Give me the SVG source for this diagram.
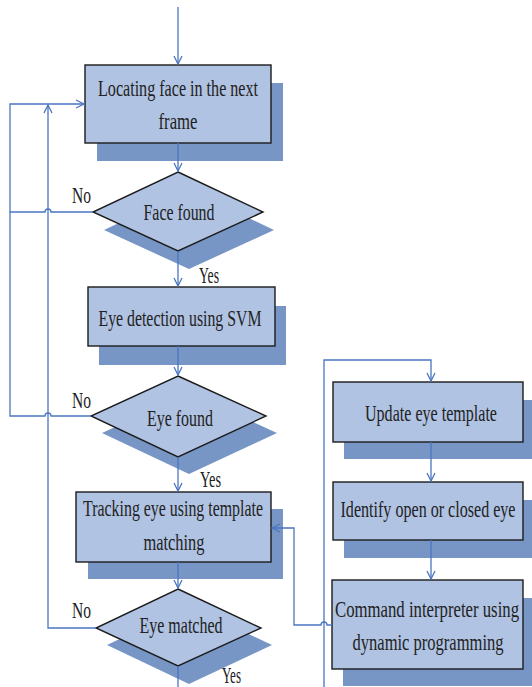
<svg xmlns="http://www.w3.org/2000/svg" width="532" height="687" viewBox="0 0 532 687">
<style>
.box{fill:#B0C3E3;stroke:#1c1c1c;stroke-width:1.4}
.sh{fill:#7896C5}
.t{font-family:"Liberation Serif",serif;font-size:23px;fill:#222;text-anchor:middle}
.lbl{font-family:"Liberation Serif",serif;font-size:23px;fill:#222}
.c{fill:none;stroke:#4A76C0;stroke-width:1.3}
</style>
<defs>
<marker id="ah" viewBox="0 0 10 10" refX="9" refY="5" markerWidth="10" markerHeight="10" markerUnits="userSpaceOnUse" orient="auto">
<path d="M1,1 L9,5 L1,9" fill="none" stroke="#4A76C0" stroke-width="1.3"/>
</marker>
</defs>
<g id="n1">
<rect class="sh" x="97" y="83" width="186" height="78"/>
<rect class="box" x="85" y="65" width="186" height="78"/>
<text class="t" transform="translate(178,96) scale(0.7,1)" textLength="228.6" lengthAdjust="spacingAndGlyphs">Locating face in the next</text>
<text class="t" transform="translate(178,129) scale(0.7,1)" textLength="55.7" lengthAdjust="spacingAndGlyphs">frame</text>
</g>
<g id="d1">
<polygon class="sh" points="189,190 274,230 189,269 104,230"/>
<polygon class="box" points="178,172 263,212 178,251 93,212"/>
<text class="t" transform="translate(179,220) scale(0.7,1)" textLength="101.4" lengthAdjust="spacingAndGlyphs">Face found</text>
</g>
<g id="n2">
<rect class="sh" x="99" y="306" width="187" height="59"/>
<rect class="box" x="88" y="287" width="187" height="59"/>
<text class="t" transform="translate(180,326) scale(0.7,1)" textLength="232.9" lengthAdjust="spacingAndGlyphs">Eye detection using SVM</text>
</g>
<g id="d2">
<polygon class="sh" points="189,393 277,433 189,474 102,433"/>
<polygon class="box" points="178,376 266,416 178,457 91,416"/>
<text class="t" transform="translate(180,426) scale(0.7,1)" textLength="94.3" lengthAdjust="spacingAndGlyphs">Eye found</text>
</g>
<g id="n3">
<rect class="sh" x="88" y="509" width="195" height="70"/>
<rect class="box" x="76" y="492" width="195" height="70"/>
<text class="t" transform="translate(173,516) scale(0.7,1)" textLength="257.1" lengthAdjust="spacingAndGlyphs">Tracking eye using template</text>
<text class="t" transform="translate(174,550) scale(0.7,1)" textLength="87.1" lengthAdjust="spacingAndGlyphs">matching</text>
</g>
<g id="d3">
<polygon class="sh" points="189,606 272,645 189,684 107,645"/>
<polygon class="box" points="178,589 261,628 178,666 96,628"/>
<text class="t" transform="translate(181,633) scale(0.7,1)" textLength="118.6" lengthAdjust="spacingAndGlyphs">Eye matched</text>
</g>
<g id="r1">
<rect class="sh" x="344" y="400" width="190" height="59"/>
<rect class="box" x="333" y="382" width="190" height="60"/>
<text class="t" transform="translate(431,421) scale(0.7,1)" textLength="188.6" lengthAdjust="spacingAndGlyphs">Update eye template</text>
</g>
<g id="r2">
<rect class="sh" x="344" y="500" width="190" height="58"/>
<rect class="box" x="333" y="482" width="190" height="58"/>
<text class="t" transform="translate(428,517) scale(0.7,1)" textLength="250" lengthAdjust="spacingAndGlyphs">Identify open or closed eye</text>
</g>
<g id="r3">
<rect class="sh" x="343" y="598" width="191" height="88"/>
<rect class="box" x="332" y="580" width="191" height="89"/>
<text class="t" transform="translate(427,617) scale(0.7,1)" textLength="262.9" lengthAdjust="spacingAndGlyphs">Command interpreter using</text>
<text class="t" transform="translate(428,650) scale(0.7,1)" textLength="215.7" lengthAdjust="spacingAndGlyphs">dynamic programming</text>
</g>
<g id="connectors">
<path class="c" d="M178,7 L178,64" marker-end="url(#ah)"/>
<path class="c" d="M178,143 L178,171" marker-end="url(#ah)"/>
<path class="c" d="M178,251 L178,286" marker-end="url(#ah)"/>
<path class="c" d="M178,346 L178,375" marker-end="url(#ah)"/>
<path class="c" d="M178,457 L178,491" marker-end="url(#ah)"/>
<path class="c" d="M178,562 L178,588" marker-end="url(#ah)"/>
<path class="c" d="M178,666 L178,687"/>
<path class="c" d="M431,442 L431,481" marker-end="url(#ah)"/>
<path class="c" d="M431,540 L431,579" marker-end="url(#ah)"/>
<path class="c" d="M93,212 L51,212 A3,3 0 0 0 45,212 L10,212 L10,104 L84,104" marker-end="url(#ah)"/>
<path class="c" d="M91,416 L51,416 A3,3 0 0 0 45,416 L10,416 L10,212"/>
<path class="c" d="M96,628 L48,628 L48,105" marker-end="url(#ah)"/>
<path class="c" d="M332,625 L327,625 A3,3 0 0 0 321,625 L294,625 L294,528 L272,528" marker-end="url(#ah)"/>
<path class="c" d="M324,687 L324,360 L431,360 L431,381" marker-end="url(#ah)"/>
</g>
<g id="labels">
<text class="lbl" transform="translate(72,203) scale(0.7,1)" textLength="27.1" lengthAdjust="spacingAndGlyphs">No</text>
<text class="lbl" transform="translate(72,408) scale(0.7,1)" textLength="27.1" lengthAdjust="spacingAndGlyphs">No</text>
<text class="lbl" transform="translate(72,618) scale(0.7,1)" textLength="27.1" lengthAdjust="spacingAndGlyphs">No</text>
<text class="lbl" transform="translate(199,283) scale(0.7,1)" textLength="28.6" lengthAdjust="spacingAndGlyphs">Yes</text>
<text class="lbl" transform="translate(200,487) scale(0.7,1)" textLength="30" lengthAdjust="spacingAndGlyphs">Yes</text>
<text class="lbl" transform="translate(222,683) scale(0.7,1)" textLength="27.1" lengthAdjust="spacingAndGlyphs">Yes</text>
</g>
</svg>
